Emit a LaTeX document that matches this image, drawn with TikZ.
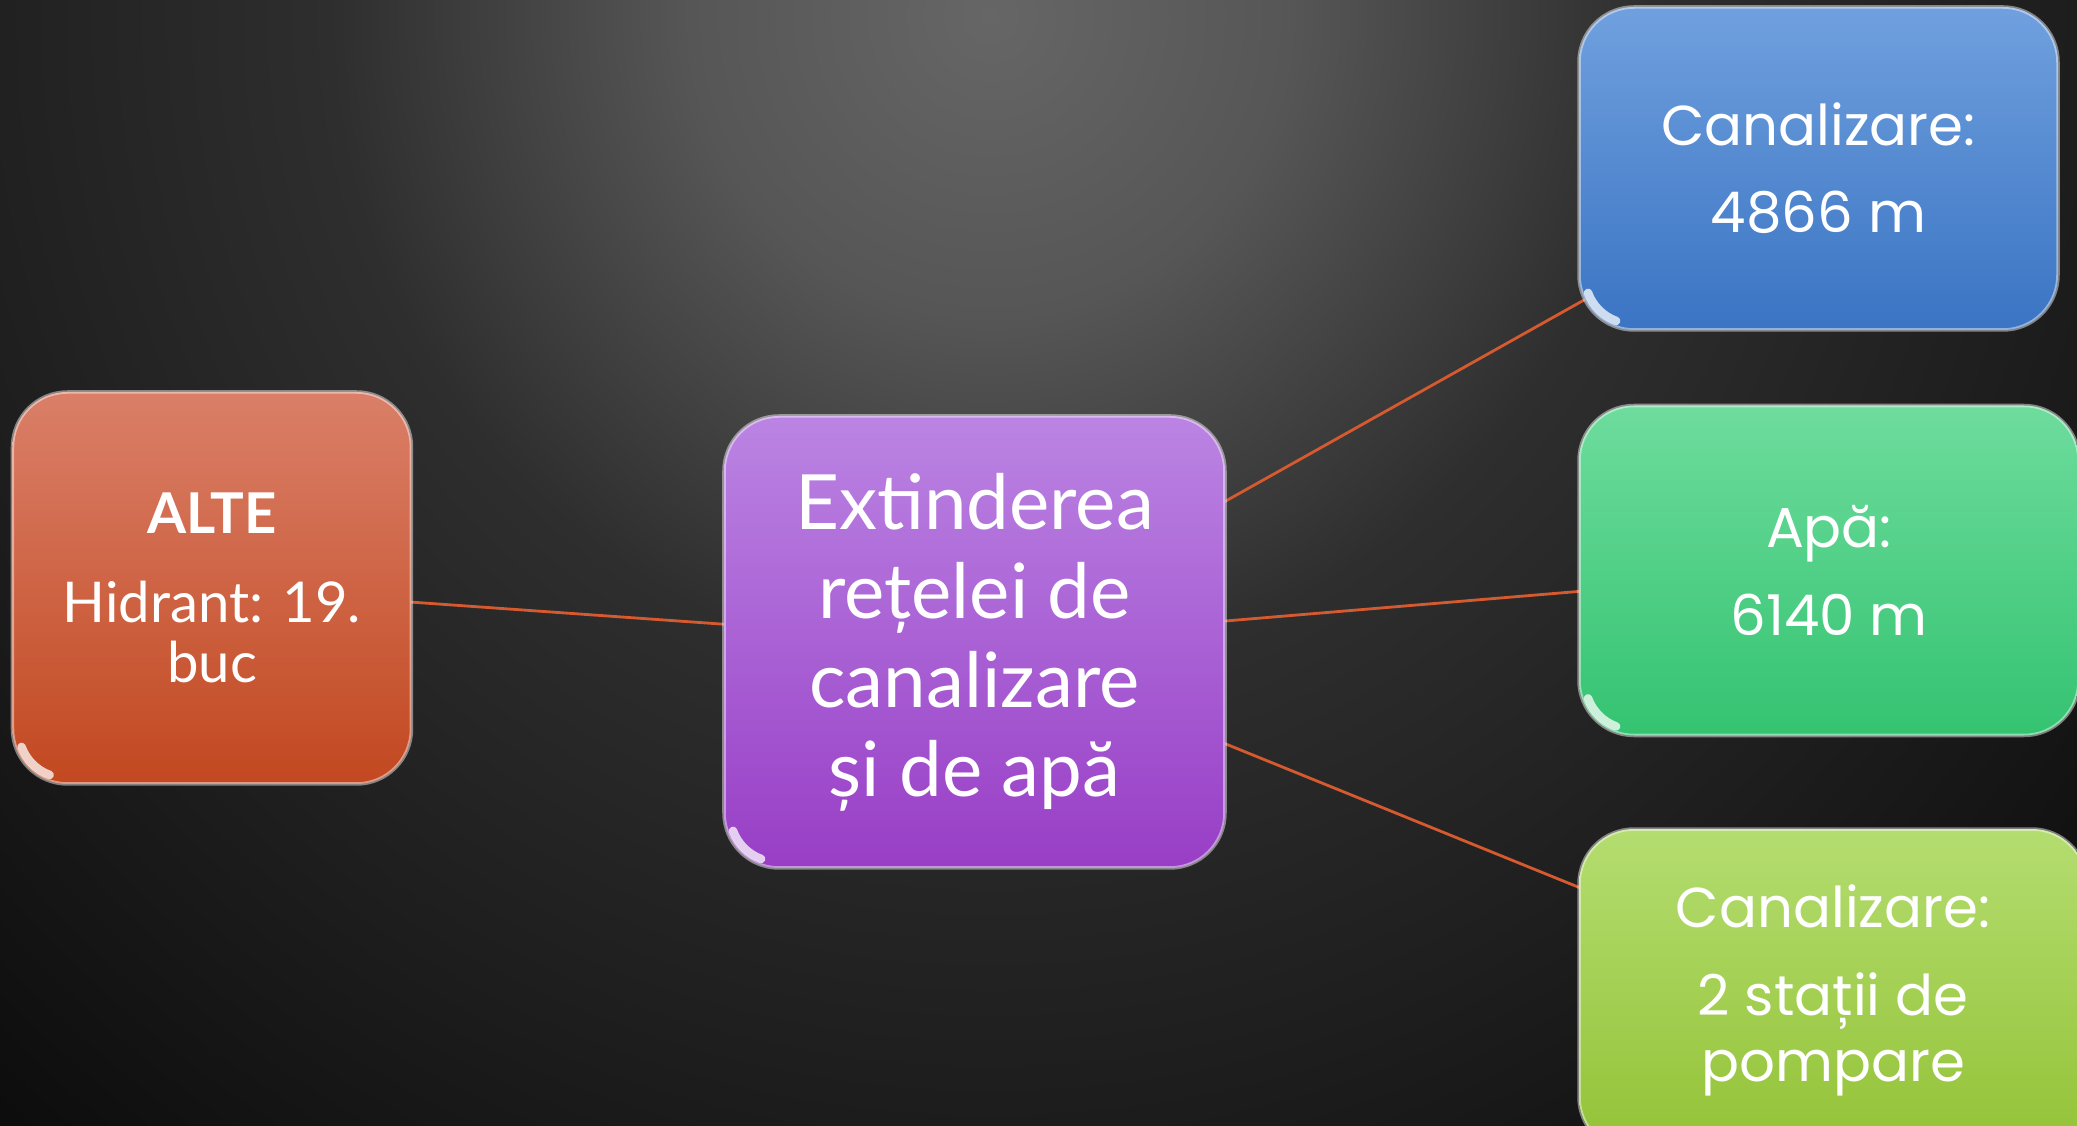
\documentclass[tikz,border=0pt]{standalone}
\usepackage{fontspec}
\setmainfont{Lato}
\newfontfamily\gothicfont{Poppins}
\usetikzlibrary{positioning, backgrounds}

\definecolor{glowA}{HTML}{666666}
\definecolor{glowB}{HTML}{565656}
\definecolor{glowC}{HTML}{2E2E2E}
\definecolor{glowD}{HTML}{1E1E1E}
\definecolor{glowE}{HTML}{0C0C0C}
\definecolor{linkred}{HTML}{D55A2F}
\definecolor{altetop}{HTML}{DA7F68}
\definecolor{altebot}{HTML}{C24820}
\definecolor{hubtop}{HTML}{BB84E3}
\definecolor{hubbot}{HTML}{983EC6}
\definecolor{canaltop}{HTML}{70A0DE}
\definecolor{canalbot}{HTML}{3A74C3}
\definecolor{apatop}{HTML}{6EDC9D}
\definecolor{apabot}{HTML}{34C371}
\definecolor{statiitop}{HTML}{B4DD70}
\definecolor{statiibot}{HTML}{93C236}

\pgfdeclareradialshading{slideglow}{\pgfpoint{0bp}{0bp}}{color(0bp)=(glowA); color(5bp)=(glowB); color(11bp)=(glowC); color(17.7bp)=(glowD); color(25bp)=(glowE); color(50bp)=(glowE)}

\begin{document}
\begin{tikzpicture}[
            block/.style={rectangle, rounded corners=0.55cm, draw=white, draw opacity=0.45, line width=1pt, text=white, inner sep=0pt},
            sidebox/.style={block, minimum width=4.79cm, minimum height=3.23cm, font=\gothicfont\fontsize{16}{18.8}\selectfont},
            link/.style={draw=linkred, line width=0.8pt},
            gloss/.style={white, line width=2.4pt, line cap=round, opacity=0.75},
            every node/.style={align=center}
        ]
        \useasboundingbox (0,0) rectangle (20.77,11.26);
        \begin{scope}[on background layer]
            \clip (0,0) rectangle (20.77,11.26);
            \shade[shading=slideglow] (9.9,11.1) circle (15cm);
        \end{scope}

        % Blocks
        \node[block, minimum width=5.01cm, minimum height=4.52cm, top color=hubtop, bottom color=hubbot, font=\fontsize{21.7}{25.3}\selectfont] (hub) at (9.745,4.84) {Extinderea\\rețelei de\\canalizare\\și de apă};
        \node[block, minimum width=3.99cm, minimum height=3.92cm, top color=altetop, bottom color=altebot, font=\fontsize{16}{17.3}\selectfont, left=3.09cm of hub, yshift=0.54cm] (alte) {\textbf{ALTE}\\[8pt]Hidrant: 19.\\buc};

        \node[sidebox, top color=canaltop, bottom color=canalbot] (canal) at (18.185,9.575) {Canalizare:\\[6pt]4866 m};
        \node[sidebox, minimum width=5cm, minimum height=3.3cm, top color=apatop, bottom color=apabot, below=0.72cm of canal.south west, anchor=north west] (apa) {Apă:\\[6pt]6140 m};
        \node[sidebox, minimum width=5.08cm, top color=statiitop, bottom color=statiibot, below=0.9cm of apa.south west, anchor=north west] (statii) {Canalizare:\\[6pt]2 stații de\\pompare};

        % shine on the lower left corners
        \draw[gloss] ([shift={(0.55,0.55)}]alte.south west) ++(200:0.47) arc[start angle=200, end angle=250, radius=0.47];
        \draw[gloss] ([shift={(0.55,0.55)}]hub.south west) ++(200:0.47) arc[start angle=200, end angle=250, radius=0.47];
        \draw[gloss] ([shift={(0.55,0.55)}]canal.south west) ++(200:0.47) arc[start angle=200, end angle=250, radius=0.47];
        \draw[gloss] ([shift={(0.55,0.55)}]apa.south west) ++(200:0.47) arc[start angle=200, end angle=250, radius=0.47];

        % connectors
        \begin{scope}[on background layer]
            \draw[link] (alte.center) -- (hub.center);
            \draw[link] (hub.center) -- (canal.center);
            \draw[link] (hub.center) -- (apa.center);
            \draw[link] (hub.center) -- (statii.center);
        \end{scope}

    \end{tikzpicture}
\end{document}
